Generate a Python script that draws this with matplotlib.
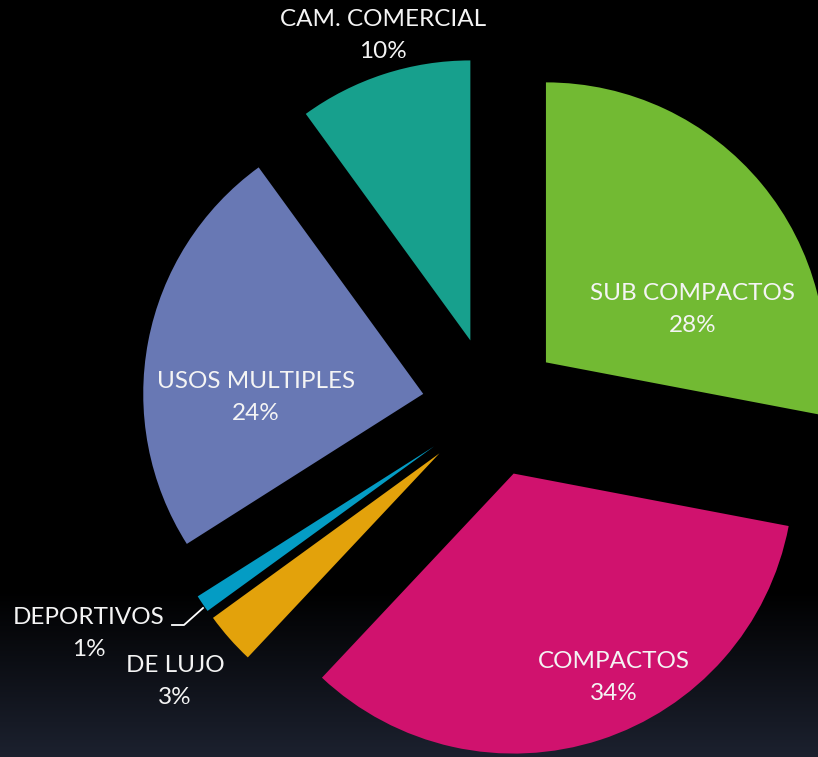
import numpy as np
import matplotlib.pyplot as plt

# Vehicle segment share
segments = ['SUB COMPACTOS', 'COMPACTOS', 'DE LUJO', 'DEPORTIVOS', 'USOS MULTIPLES', 'CAM. COMERCIAL']
shares = [28, 34, 3, 1, 24, 10]
colors = ['#72BA33', '#D0126E', '#E3A20B', '#049CC4', '#6878B4', '#17A08D']

W, H = 818, 757
fig = plt.figure(figsize=(W / 100, H / 100), dpi=100)
ax = fig.add_axes([0, 0, 1, 1])

# background: black fading to dark navy near the bottom (row 0 = top)
rows = np.arange(H)
t = np.clip((rows - 590) / (H - 590), 0, 1)
bottom = np.array([28, 33, 47]) / 255
grad = (t[:, None] * bottom)[:, None, :]
ax.imshow(grad, extent=[0, W, 0, H], aspect='auto', zorder=0, origin='upper')

# pie in pixel units, every slice pulled out by 70 px
wedges, _ = ax.pie(shares, colors=colors, startangle=90, counterclock=False,
                   radius=280, center=(492, H - 407), explode=[70] * 6,
                   wedgeprops=dict(linewidth=0), frame=True)
for w in wedges:
    w.set_zorder(2)
ax.set_xlim(0, W)
ax.set_ylim(0, H)
ax.set_aspect('equal')
ax.axis('off')

# label positions (pixels from top-left)
label_pos = [(693, 294), (614, 662), (175, 665), (89, 617), (256, 382), (383, 20)]
font = dict(family=['Lato', 'DejaVu Sans'], fontsize=17.5, color='#f4f4f4',
            ha='center', va='center', zorder=3)
for name, val, (x, y) in zip(segments, shares, label_pos):
    ax.text(x, H - y, name, **font)
    ax.text(x, H - y - 32, f'{val}%', **font)

# leader line for DEPORTIVOS
ax.plot([172, 184, 203], [H - 625, H - 625, H - 608], color='white', lw=1.3, zorder=3)

fig.savefig('out.png', dpi=100, facecolor='black')
